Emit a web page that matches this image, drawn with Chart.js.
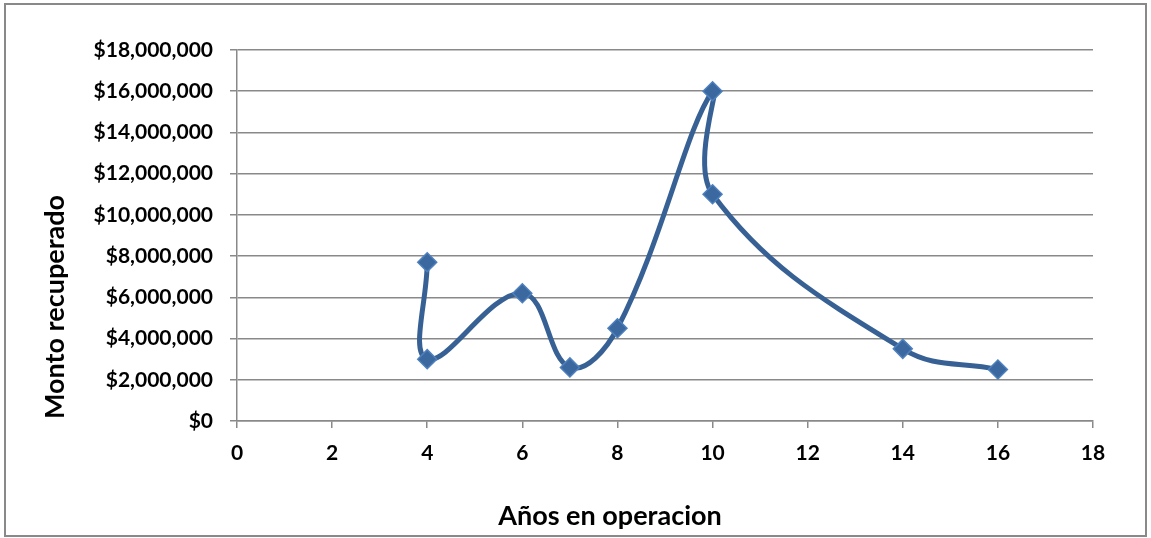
<!DOCTYPE html>
<html>
<head>
<meta charset="utf-8">
<script src="https://cdn.jsdelivr.net/npm/chart.js@4"></script>
<style>
  html, body { margin: 0; padding: 0; background: #fff; }
  #wrap { width: 1151px; height: 538px; position: relative; }
</style>
</head>
<body>
<div id="wrap"><canvas id="chart" width="1151" height="538"></canvas></div>
<script>
// años en operacion vs monto recuperado
let years = [4, 4, 6, 7, 8, 10, 10, 14, 16];
let amounts = [7700000, 3000000, 6200000, 2600000, 4500000, 16000000, 11000000, 3500000, 2500000];
let x_title = "Años en operacion";
let y_title = "Monto recuperado";

let font_family = "Lato, 'Open Sans', sans-serif";

let axisTitles = {
  id: "axisTitles",
  beforeDraw(chart) {
    let ctx = chart.ctx;
    ctx.save();
    ctx.fillStyle = "#fff";
    ctx.fillRect(0, 0, chart.width, chart.height);
    ctx.strokeStyle = "#898989";
    ctx.lineWidth = 2;
    ctx.strokeRect(5, 4, 1141, 532);
    ctx.restore();
  },
  afterDraw(chart) {
    let ctx = chart.ctx;
    ctx.save();
    ctx.fillStyle = "#000";
    ctx.font = "bold 27px " + font_family;
    ctx.textAlign = "center";
    ctx.textBaseline = "middle";
    ctx.fillText(x_title, 610, 516);
    ctx.translate(55, 307);
    ctx.rotate(-Math.PI / 2);
    ctx.fillText(y_title, 0, 0);
    ctx.restore();
  },
};

new Chart(document.getElementById("chart").getContext("2d"), {
  type: "scatter",
  data: {
    datasets: [
      {
        data: years.map((x, i) => ({ x: x, y: amounts[i] })),
        showLine: true,
        tension: 0.4,
        borderColor: "#376194",
        borderWidth: 5,
        pointStyle: "rectRot",
        pointRadius: 9.5,
        pointHoverRadius: 9.5,
        pointBackgroundColor: "#3A689F",
        pointBorderColor: "#4E80BE",
        pointBorderWidth: 1.5,
      },
    ],
  },
  options: {
    responsive: false,
    animation: false,
    events: [],
    layout: { padding: { top: 50, right: 58, left: 0, bottom: 0 } },
    plugins: { legend: { display: false }, tooltip: { enabled: false } },
    scales: {
      x: {
        type: "linear",
        min: 0,
        max: 18,
        afterFit(scale) { scale.height = 117; },
        ticks: {
          stepSize: 2,
          color: "#000",
          padding: 13,
          maxRotation: 0,
          font: { family: font_family, size: 21, weight: "bold" },
        },
        grid: { display: true, drawOnChartArea: false, color: "#898989", tickLength: 7, lineWidth: 1.5 },
        border: { color: "#898989", width: 1.5 },
      },
      y: {
        min: 0,
        max: 18000000,
        afterFit(scale) { scale.width = 237; },
        ticks: {
          stepSize: 2000000,
          color: "#000",
          padding: 17,
          font: { family: font_family, size: 21, weight: "bold" },
          callback: (v) => "$" + v.toLocaleString("en-US"),
        },
        grid: { color: "#898989", tickLength: 7, lineWidth: 1.5 },
        border: { color: "#898989", width: 1.5 },
      },
    },
  },
  plugins: [axisTitles],
});
</script>
</body>
</html>
